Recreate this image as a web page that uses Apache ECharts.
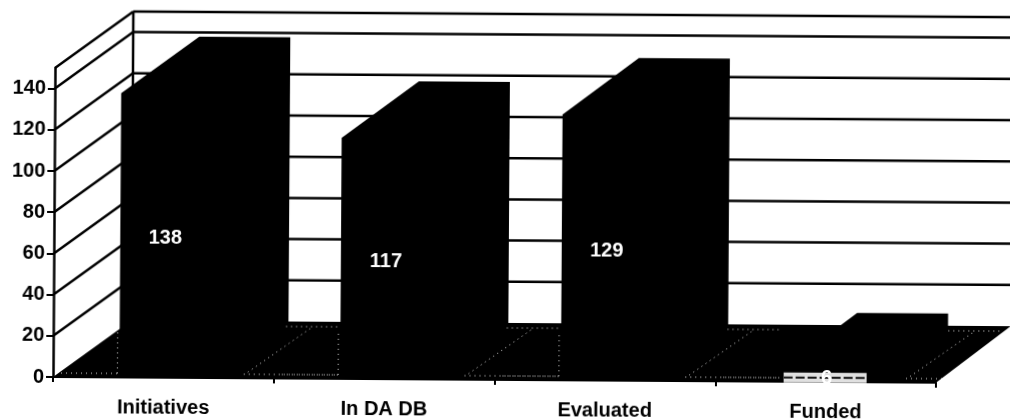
<!DOCTYPE html>
<html><head><meta charset="utf-8">
<style>html,body{margin:0;padding:0;background:#fff;overflow:hidden}
#c{width:1010px;height:419px;transform-origin:53px 377px;transform:rotate(0.37deg)}</style>
<script src="https://cdn.jsdelivr.net/npm/echarts@6/dist/echarts.min.js"></script>
</head><body><div id="c"></div>
<script>
const categories = ['Initiatives', 'In DA DB', 'Evaluated', 'Funded'];
const values = [138, 117, 129, 6];
const tickLabels = [0, 20, 40, 60, 80, 100, 120, 140];
const wallLevels = [20, 40, 60, 80, 100, 120, 140, 150];

const DEPTH_Y = 57;
const depthX = x => 78 - 0.004 * (x - 53);
const FONT = '"Liberation Sans", Arial, sans-serif';
const barWidth = 91, barOffset = -44;

function bandEdges(api, v) {
  const half = api.size([1, 0])[0] / 2;
  return [api.coord([0, v])[0] - half, api.coord([categories.length - 1, v])[0] + half, api.coord([0, v])[1]];
}
const speck = {stroke: '#fff', lineWidth: 1, lineDash: [1, 4], fill: null, opacity: 0.85};

const option = {
  animation: false,
  backgroundColor: '#fff',
  grid: {left: 53, right: 74, top: 68, bottom: 42},
  xAxis: {
    type: 'category', data: categories,
    axisLine: {lineStyle: {color: '#000', width: 2}},
    axisTick: {show: true, length: 5, alignWithLabel: false, lineStyle: {color: '#000', width: 2}},
    axisLabel: {color: '#000', fontFamily: FONT, fontWeight: 'bold', fontSize: 20, margin: 20}
  },
  yAxis: {
    type: 'value', min: 0, max: 150, interval: 10,
    splitLine: {show: false},
    axisLine: {show: true, lineStyle: {color: '#000', width: 2.5}},
    axisTick: {show: true, length: 7, customValues: tickLabels, lineStyle: {color: '#000', width: 2}},
    axisLabel: {color: '#000', fontFamily: FONT, fontWeight: 'bold', fontSize: 20, margin: 9, customValues: tickLabels}
  },
  series: [
    { // walls
      type: 'custom', coordinateSystem: 'cartesian2d', z: 1, silent: true,
      data: wallLevels.map(v => [0, v]),
      renderItem(params, api) {
        const v = api.value(1);
        const [l, r, y] = bandEdges(api, v);
        const dx = depthX(l);
        const st = {stroke: '#000', lineWidth: 2.5, fill: null};
        const children = [
          {type: 'line', shape: {x1: l, y1: y, x2: l + dx, y2: y - DEPTH_Y}, style: st},
          {type: 'line', shape: {x1: l + dx, y1: y - DEPTH_Y, x2: r + 90, y2: y - DEPTH_Y}, style: st}
        ];
        if (v === 150) {
          const y0 = api.coord([0, 0])[1];
          children.push({type: 'line', shape: {x1: l + dx, y1: y - DEPTH_Y, x2: l + dx, y2: y0 - DEPTH_Y}, style: st});
        }
        return {type: 'group', children};
      }
    },
    { // floor
      type: 'custom', coordinateSystem: 'cartesian2d', z: 2, silent: true,
      data: [[0, 0]],
      renderItem(params, api) {
        const [l, r, y] = bandEdges(api, 0);
        const half = api.size([1, 0])[0] / 2;
        const children = [{type: 'polygon', shape: {points: [[l, y], [r, y], [r + depthX(r), y - DEPTH_Y], [l + depthX(l), y - DEPTH_Y]]}, style: {fill: '#000'}}];
        categories.forEach((c, i) => {
          const e = api.coord([i, 0])[0] + half;
          children.push({type: 'line', shape: {x1: e - half * 2 + 8, y1: y - 4, x2: e - half * 2 + 64, y2: y - 4}, style: speck});
          children.push({type: 'line', shape: {x1: e - 30, y1: y - 4, x2: e + 64, y2: y - 4}, style: speck});
          children.push({type: 'line', shape: {x1: e - 26, y1: y - 6, x2: e + 36, y2: y - 50}, style: speck});
          children.push({type: 'line', shape: {x1: e + 12, y1: y - 52, x2: e + 66, y2: y - 52}, style: speck});
        });
        return {type: 'group', children};
      }
    },
    { // bars
      type: 'custom', coordinateSystem: 'cartesian2d', z: 3, silent: true,
      data: values.map((v, i) => [i, v]),
      renderItem(params, api) {
        const top = api.coord([api.value(0), api.value(1)]);
        const base = api.coord([api.value(0), 0]);
        const x = top[0] + barOffset, w = barWidth;
        const dx = depthX(x);
        const low = api.value(1) < 20;
        const children = [
          {type: 'polygon', shape: {points: [[x, base[1]], [x, top[1]], [x + dx, top[1] - DEPTH_Y], [x + w + dx, top[1] - DEPTH_Y], [x + w + dx, base[1] - DEPTH_Y], [x + w, base[1]]]}, style: {fill: '#000'}}
        ];
        if (low) {
          children.push({type: 'rect', shape: {x: x + 2, y: top[1] + 3, width: w - 8, height: 10}, style: {fill: '#e0e0e0'}});
          children.push({type: 'line', shape: {x1: x + 2, y1: top[1] + 8, x2: x + w - 6, y2: top[1] + 8}, style: {stroke: '#111', lineWidth: 2, lineDash: [9, 3]}});
        } else {
          children.push({type: 'line', shape: {x1: x - 2, y1: base[1] - 4, x2: x - 2, y2: base[1] - 48}, style: speck});
        }
        children.push({type: 'text', style: {
          x: x + 45, y: (top[1] + base[1]) / 2 + 3,
          text: String(api.value(1)), fill: '#fff', align: 'center', verticalAlign: 'middle',
          font: 'bold 20px ' + FONT
        }});
        return {type: 'group', children};
      }
    }
  ]
};
echarts.init(document.getElementById('c'), null, {renderer: 'canvas'}).setOption(option);
</script></body></html>
